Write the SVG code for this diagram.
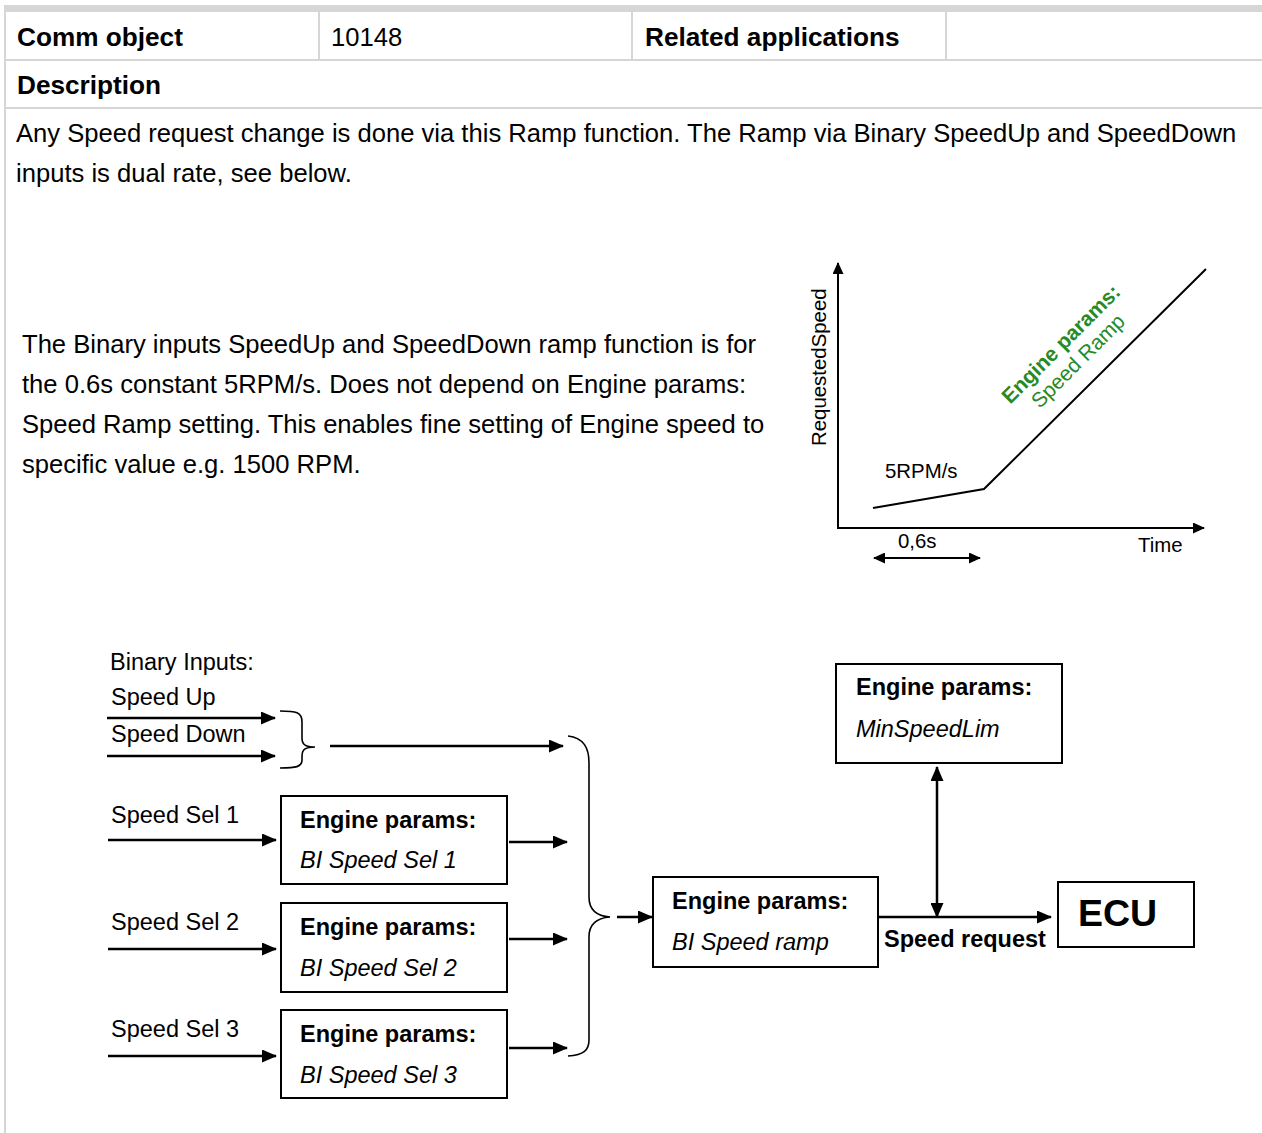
<svg xmlns="http://www.w3.org/2000/svg" width="1262" height="1133" viewBox="0 0 1262 1133">
<defs>
<style>
.t{font-family:"Liberation Sans",Arial,sans-serif;fill:#000}
.hd{font-size:26.2px;font-weight:bold}
.bd{font-size:25.6px}
.ch{font-size:20.4px}
.gr{font-size:21px;fill:#268a26}
.dg{font-size:23.5px}
.b{font-weight:bold}
.i{font-style:italic}
.grid{stroke:#d6d6d6;stroke-width:2;fill:none}
.box{fill:#fff;stroke:#000;stroke-width:2}
.ar{stroke:#000;stroke-width:2.5;fill:none;marker-end:url(#ah)}
.ax{stroke:#000;stroke-width:2;fill:none}
.br{stroke:#000;stroke-width:1.6;fill:none}
</style>
<marker id="ah" markerUnits="userSpaceOnUse" markerWidth="15" markerHeight="13" viewBox="0 0 15 13" refX="14" refY="6.5" orient="auto-start-reverse"><path d="M0,0 L15,6.5 L0,13 z" fill="#000"/></marker>
<marker id="ahs" markerUnits="userSpaceOnUse" markerWidth="12" markerHeight="11" viewBox="0 0 12 11" refX="11" refY="5.5" orient="auto-start-reverse"><path d="M0,0 L12,5.5 L0,11 z" fill="#000"/></marker>
</defs>
<rect x="0" y="0" width="1262" height="1133" fill="#fff"/>

<g id="table">
<rect x="5" y="5" width="1257" height="7" fill="#d6d6d6"/>
<line class="grid" x1="5" y1="5" x2="5" y2="1133"/>
<line class="grid" x1="5" y1="60" x2="1262" y2="60"/>
<line class="grid" x1="5" y1="108" x2="1262" y2="108"/>
<line class="grid" x1="319" y1="12" x2="319" y2="60"/>
<line class="grid" x1="632" y1="12" x2="632" y2="60"/>
<line class="grid" x1="946" y1="12" x2="946" y2="60"/>
<text class="t hd" x="17" y="46">Comm object</text>
<text class="t bd" x="331" y="46">10148</text>
<text class="t hd" x="645" y="46">Related applications</text>
<text class="t hd" x="17" y="94">Description</text>
<text class="t bd" x="16" y="142">Any Speed request change is done via this Ramp function. The Ramp via Binary SpeedUp and SpeedDown</text>
<text class="t bd" x="16" y="182">inputs is dual rate, see below.</text>
<text class="t bd" x="22" y="353">The Binary inputs SpeedUp and SpeedDown ramp function is for</text>
<text class="t bd" x="22" y="393">the 0.6s constant 5RPM/s. Does not depend on Engine params:</text>
<text class="t bd" x="22" y="433">Speed Ramp setting. This enables fine setting of Engine speed to</text>
<text class="t bd" x="22" y="473">specific value e.g. 1500 RPM.</text>
</g>

<g id="chart">
<line class="ax" x1="838" y1="528" x2="838" y2="263" marker-end="url(#ahs)"/>
<line class="ax" x1="837" y1="528" x2="1204" y2="528" marker-end="url(#ahs)"/>
<polyline class="ax" points="873,508 984,489 1206,269"/>
<line class="ax" x1="874" y1="558" x2="980" y2="558" marker-start="url(#ahs)" marker-end="url(#ahs)"/>
<text class="t ch" x="885" y="478">5RPM/s</text>
<text class="t ch" x="898" y="548">0,6s</text>
<text class="t ch" x="1138" y="552">Time</text>
<text class="t ch" transform="translate(826,446) rotate(-90)">RequestedSpeed</text>
<g transform="translate(1066,349) rotate(-45)">
<text class="t gr b" x="0" y="0" text-anchor="middle">Engine params:</text>
<text class="t gr" x="0" y="24" text-anchor="middle">Speed Ramp</text>
</g>
</g>

<g id="connectors">
<line class="ar" x1="107" y1="718" x2="275" y2="718"/>
<line class="ar" x1="107" y1="756" x2="275" y2="756"/>
<path class="br" d="M280,711 C296,711 302,712 302,722 L302,738 C302,745 306,747 315,747 C306,747 302,749 302,756 L302,760 C302,767 296,768 280,768"/>
<line class="ar" x1="330" y1="746" x2="563" y2="746"/>
<line class="ar" x1="108" y1="840" x2="276" y2="840"/>
<line class="ar" x1="108" y1="949" x2="276" y2="949"/>
<line class="ar" x1="108" y1="1056" x2="276" y2="1056"/>
<line class="ar" x1="509" y1="842" x2="567" y2="842"/>
<line class="ar" x1="509" y1="939" x2="567" y2="939"/>
<line class="ar" x1="509" y1="1048" x2="567" y2="1048"/>
<path class="br" d="M568,736 C584,738 589,748 589,763 L589,897 C589,910 596,916 610,917 C596,918 589,924 589,937 L589,1040 C589,1050 584,1055 568,1056"/>
<line class="ar" x1="617" y1="917" x2="652" y2="917"/>
<line class="ar" x1="879" y1="917" x2="1051" y2="917"/>
<line class="ar" x1="937" y1="917" x2="937" y2="767" marker-start="url(#ah)"/>
</g>

<g id="labels">
<text class="t dg" x="110" y="670">Binary Inputs:</text>
<text class="t dg" x="111" y="705">Speed Up</text>
<text class="t dg" x="111" y="742">Speed Down</text>
<text class="t dg" x="111" y="823">Speed Sel 1</text>
<text class="t dg" x="111" y="930">Speed Sel 2</text>
<text class="t dg" x="111" y="1037">Speed Sel 3</text>
<text class="t dg b" x="884" y="947">Speed request</text>
</g>

<g id="sel1">
<rect class="box" x="281" y="796" width="226" height="88"/>
<text class="t dg b" x="300" y="828">Engine params:</text>
<text class="t dg i" x="300" y="868">BI Speed Sel 1</text>
</g>
<g id="sel2">
<rect class="box" x="281" y="903" width="226" height="89"/>
<text class="t dg b" x="300" y="935">Engine params:</text>
<text class="t dg i" x="300" y="976">BI Speed Sel 2</text>
</g>
<g id="sel3">
<rect class="box" x="281" y="1010" width="226" height="88"/>
<text class="t dg b" x="300" y="1042">Engine params:</text>
<text class="t dg i" x="300" y="1083">BI Speed Sel 3</text>
</g>
<g id="ramp">
<rect class="box" x="653" y="877" width="225" height="90"/>
<text class="t dg b" x="672" y="909">Engine params:</text>
<text class="t dg i" x="672" y="950">BI Speed ramp</text>
</g>
<g id="minspeed">
<rect class="box" x="836" y="664" width="226" height="99"/>
<text class="t dg b" x="856" y="695">Engine params:</text>
<text class="t dg i" x="856" y="737">MinSpeedLim</text>
</g>
<g id="ecu">
<rect class="box" x="1058" y="882" width="136" height="65"/>
<text class="t b" x="1078" y="926" style="font-size:37.5px">ECU</text>
</g>
</svg>
